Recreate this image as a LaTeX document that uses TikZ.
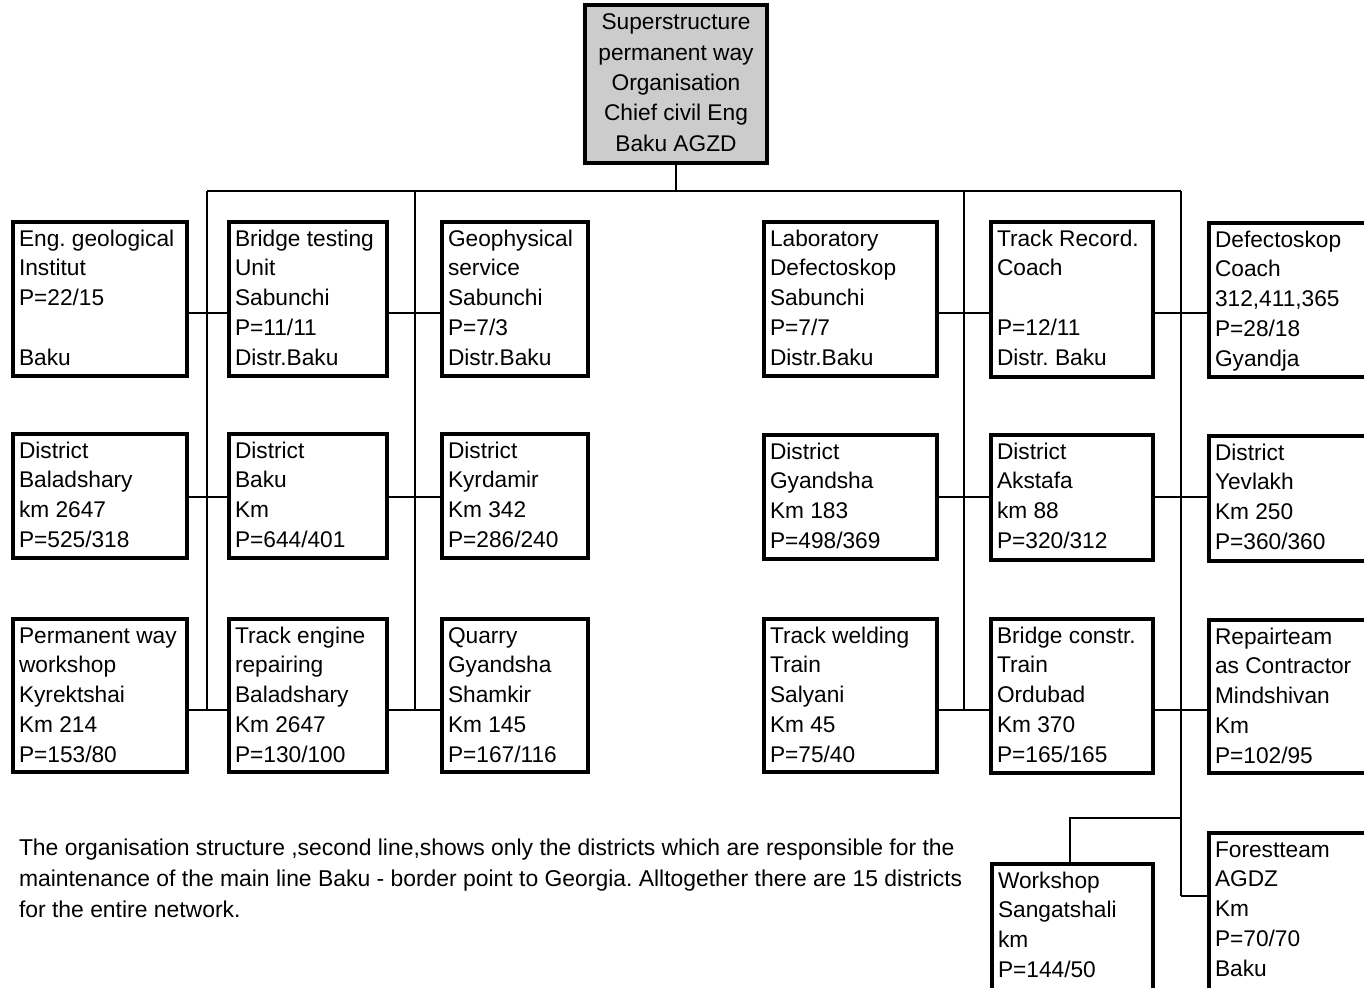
\documentclass[tikz,border=0pt]{standalone}
\usepackage{fontspec}
\setmainfont{Liberation Sans}
\usetikzlibrary{calc}
\frenchspacing
\tikzset{
  box/.style={draw=black, line width=3.5pt, fill=white, anchor=north west, inner sep=0pt, outer sep=0pt},
  topbox/.style={box, line width=4.5pt, fill=black!20},
  txt/.style={anchor=north west, inner sep=0pt, outer sep=0pt, align=left, font=\fontsize{22.7}{29.8}\selectfont},
  ctxt/.style={anchor=north, inner sep=0pt, outer sep=0pt, align=center, font=\fontsize{22.7}{30.3}\selectfont},
  ptxt/.style={anchor=north west, inner sep=0pt, outer sep=0pt, align=left, font=\fontsize{22.9}{31}\selectfont},
  wire/.style={line width=2pt}
}
\newcommand{\mkbox}[6]{%
  \node[box, minimum width={#4-#2}, minimum height={#5-#3}] (#1) at (#2,#3) {};
  \node[txt] (#1t) at (#2+6,#3+6) {\rule{0pt}{18pt}#6};
}
\begin{document}
\begin{tikzpicture}[x=1pt,y=-1pt]
\clip (0,0) rectangle (1364,987);
\fill[white] (0,0) rectangle (1364,987);

% reference coordinates
\coordinate (bus) at (0,191);
\coordinate (r1) at (0,313);
\coordinate (r2) at (0,497);
\coordinate (r3) at (0,710);
\coordinate (f) at (0,896);
\coordinate (v1) at (207,191);
\coordinate (v2) at (415,191);
\coordinate (v3) at (964,191);
\coordinate (v4) at (1181,191);
\coordinate (w) at (1070,818);

% top box
\node[topbox, minimum width=182, minimum height=158] (top) at (585,5) {};
\node[ctxt] (topt) at (676,12) {\rule{0pt}{18pt}Superstructure\\permanent way\\Organisation\\Chief civil Eng\\Baku AGZD};

% boxes
\mkbox{a1}{13}{222}{187}{376}{Eng. geological\\Institut\\P=22/15\\\mbox{}\\Baku}
\mkbox{a2}{229}{222}{387}{376}{Bridge testing\\Unit\\Sabunchi\\P=11/11\\Distr.Baku}
\mkbox{a3}{442}{222}{588}{376}{Geophysical\\service\\Sabunchi\\P=7/3\\Distr.Baku}
\mkbox{a4}{764}{222}{937}{376}{Laboratory\\Defectoskop\\Sabunchi\\P=7/7\\Distr.Baku}
\mkbox{a5}{991}{222}{1153}{377}{Track Record.\\Coach\\\mbox{}\\P=12/11\\Distr. Baku}
\mkbox{a6}{1209}{223}{1372}{377}{Defectoskop\\Coach\\312,411,365\\P=28/18\\Gyandja}

\mkbox{b1}{13}{434}{187}{558}{District\\Baladshary\\km 2647\\P=525/318}
\mkbox{b2}{229}{434}{387}{558}{District\\Baku\\Km\\P=644/401}
\mkbox{b3}{442}{434}{588}{558}{District\\Kyrdamir\\Km 342\\P=286/240}
\mkbox{b4}{764}{435}{937}{559}{District\\Gyandsha\\Km 183\\P=498/369}
\mkbox{b5}{991}{435}{1153}{560}{District\\Akstafa\\km 88\\P=320/312}
\mkbox{b6}{1209}{436}{1372}{561}{District\\Yevlakh\\Km 250\\P=360/360}

\mkbox{c1}{13}{619}{187}{772}{Permanent way\\workshop\\Kyrektshai\\Km 214\\P=153/80}
\mkbox{c2}{229}{619}{387}{772}{Track engine\\repairing\\Baladshary\\Km 2647\\P=130/100}
\mkbox{c3}{442}{619}{588}{772}{Quarry\\Gyandsha\\Shamkir\\Km 145\\P=167/116}
\mkbox{c4}{764}{619}{937}{772}{Track welding\\Train\\Salyani\\Km 45\\P=75/40}
\mkbox{c5}{991}{619}{1153}{773}{Bridge constr.\\Train\\Ordubad\\Km 370\\P=165/165}
\mkbox{c6}{1209}{620}{1372}{773}{Repairteam\\as Contractor\\Mindshivan\\Km\\P=102/95}

\mkbox{ws}{992}{864}{1153}{994}{Workshop\\Sangatshali\\km\\P=144/50}
\mkbox{ft}{1209}{833}{1372}{994}{Forestteam\\AGDZ\\Km\\P=70/70\\Baku}

% connectors
\begin{scope}[wire]
\draw (top.south) -- (top.south |- bus);
\draw (v1) -- (v4);
\draw (v1) -- (v1 |- r3);
\draw (v2) -- (v2 |- r3);
\draw (v3) -- (v3 |- r3);
\draw (v4) -- (v4 |- f);
\draw (a1.east |- r1) -- (a2.west |- r1);
\draw (a2.east |- r1) -- (a3.west |- r1);
\draw (a4.east |- r1) -- (a5.west |- r1);
\draw (a5.east |- r1) -- (a6.west |- r1);
\draw (b1.east |- r2) -- (b2.west |- r2);
\draw (b2.east |- r2) -- (b3.west |- r2);
\draw (b4.east |- r2) -- (b5.west |- r2);
\draw (b5.east |- r2) -- (b6.west |- r2);
\draw (c1.east |- r3) -- (c2.west |- r3);
\draw (c2.east |- r3) -- (c3.west |- r3);
\draw (c4.east |- r3) -- (c5.west |- r3);
\draw (c5.east |- r3) -- (c6.west |- r3);
\draw (v4 |- f) -- (ft.west |- f);
\draw (v4 |- w) -- (w) -- (w |- ws.north);
\end{scope}

% note
\node[ptxt] (note) at (19,837) {\rule{0pt}{18pt}The organisation structure ,second line,shows only the districts which are responsible for the\\maintenance of the main line Baku - border point to Georgia. Alltogether there are 15 districts\\for the entire network.};
\end{tikzpicture}
\end{document}
